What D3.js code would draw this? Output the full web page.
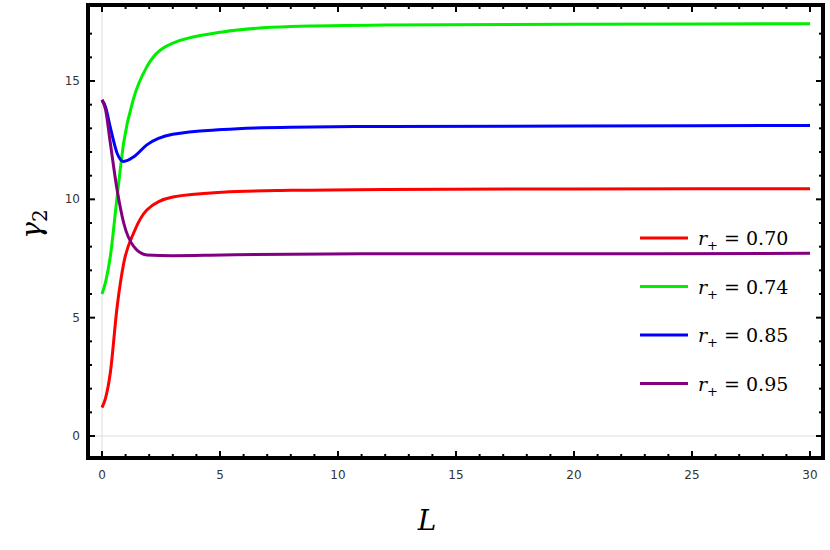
<!DOCTYPE html>
<html><head><meta charset="UTF-8">
<script src="https://d3js.org/d3.v7.min.js"></script>
<style>body{margin:0;background:#fff}</style>
</head><body>
<svg id="chart" width="830" height="550"></svg>
<script>
const Lvals = [0,0.15,0.35,0.64,0.92,1.35,1.9,3,5.1,8,12,20,30];
const red = [1.2,1.6,2.65,5.45,7.3,8.6,9.55,10.1,10.3,10.38,10.42,10.44,10.45];
const green = [6.0,6.5,7.57,10.1,12.4,14.3,15.6,16.6,17.07,17.3,17.37,17.4,17.42];
const blue = [14.2,13.9,13.05,11.95,11.6,11.8,12.3,12.75,12.95,13.05,13.08,13.1,13.12];
const purple = [14.2,13.8,12.4,10.4,9.0,8.0,7.65,7.62,7.65,7.68,7.7,7.7,7.72];
const labels = ["0.70","0.74","0.85","0.95"];
const xTicks = [0,5,10,15,20,25,30];
const yTicks = [0,5,10,15];

const series = [
  {v: red, c: "#ff0000"}, {v: green, c: "#00ee00"},
  {v: blue, c: "#0000ff"}, {v: purple, c: "#800080"}
];

const svg = d3.select("#chart");
const fLeft = 88, fRight = 823, fTop = 5, fBottom = 458;
const x = d3.scaleLinear().domain([0,30]).range([102,810]);
const y = d3.scaleLinear().domain([0,15]).range([436,81]);

// grid lines at zero
svg.append("line").attr("x1",x(0)).attr("x2",x(0)).attr("y1",fTop).attr("y2",fBottom).attr("stroke","#ddd");
svg.append("line").attr("x1",fLeft).attr("x2",fRight).attr("y1",y(0)).attr("y2",y(0)).attr("stroke","#ddd");

const line = d3.line().x((d,i) => x(Lvals[i])).y(d => y(d)).curve(d3.curveMonotoneX);
series.forEach(s => {
  svg.append("path").attr("d", line(s.v)).attr("fill","none")
    .attr("stroke", s.c).attr("stroke-width", 3);
});

// frame
svg.append("rect").attr("x",fLeft).attr("y",fTop).attr("width",fRight-fLeft).attr("height",fBottom-fTop)
  .attr("fill","none").attr("stroke","#000").attr("stroke-width",4);

// ticks
const g = svg.append("g").attr("stroke","#000").attr("stroke-width",2);
d3.range(0,31).forEach(t => {
  const len = t % 5 === 0 ? 7 : 4;
  g.append("line").attr("x1",x(t)).attr("x2",x(t)).attr("y1",fBottom).attr("y2",fBottom-len);
  g.append("line").attr("x1",x(t)).attr("x2",x(t)).attr("y1",fTop).attr("y2",fTop+len);
});
d3.range(0,18).forEach(t => {
  const len = t % 5 === 0 ? 7 : 4;
  g.append("line").attr("x1",fLeft).attr("x2",fLeft+len).attr("y1",y(t)).attr("y2",y(t));
  g.append("line").attr("x1",fRight).attr("x2",fRight-len).attr("y1",y(t)).attr("y2",y(t));
});

const font = "'DejaVu Sans', sans-serif";
svg.selectAll(".xt").data(xTicks).enter().append("text")
  .attr("x", d => x(d)).attr("y", 479).attr("text-anchor","middle")
  .attr("font-family",font).attr("font-size",12).attr("fill","#333").text(d => d);
svg.selectAll(".yt").data(yTicks).enter().append("text")
  .attr("x", 80).attr("y", d => y(d)+4).attr("text-anchor","end")
  .attr("font-family",font).attr("font-size",12).attr("fill","#333").text(d => d);

const serif = "'DejaVu Serif', 'Liberation Serif', serif";
svg.append("text").attr("x",427).attr("y",530).attr("text-anchor","middle")
  .attr("font-family",serif).attr("font-style","italic").attr("font-size",28).text("L");
svg.append("text").attr("x",33).attr("y",232).attr("text-anchor","middle")
  .attr("font-family",serif).attr("font-style","italic").attr("font-size",28)
  .attr("transform","rotate(-90,33,224)")
  .html('γ<tspan font-style="normal" font-size="20" dy="6">2</tspan>');

// legend
series.forEach((s,i) => {
  const ly = 238 + i*48.5;
  svg.append("line").attr("x1",640).attr("x2",688).attr("y1",ly).attr("y2",ly)
    .attr("stroke",s.c).attr("stroke-width",3);
  svg.append("text").attr("x",698).attr("y",ly+7).attr("font-family",serif)
    .attr("font-size",19)
    .html('<tspan font-style="italic">r</tspan><tspan font-size="13" dy="5">+</tspan><tspan dy="-5"> = ' + labels[i] + '</tspan>');
});
</script>
</body></html>
